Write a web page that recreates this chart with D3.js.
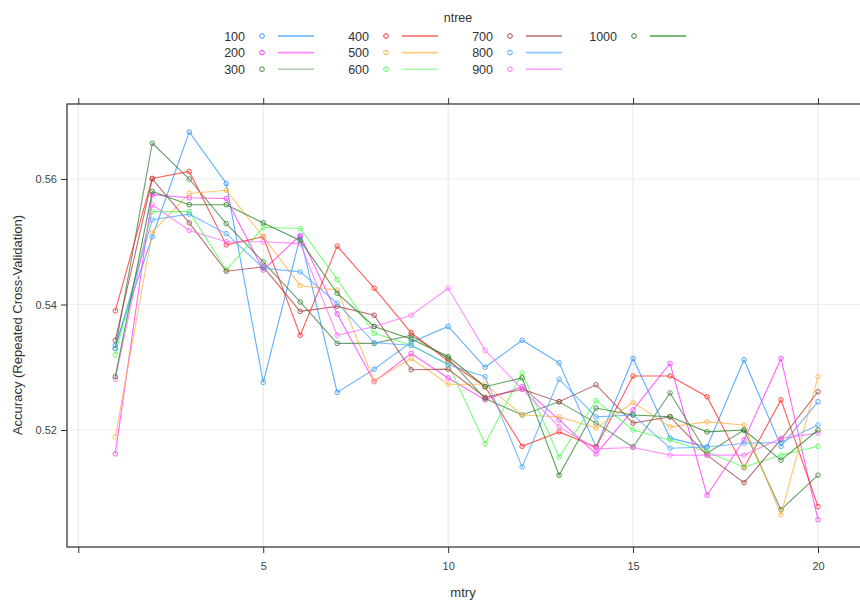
<!DOCTYPE html>
<head>
  <meta charset="utf-8">
  <script src="https://d3js.org/d3.v7.min.js"></script>
  <style>
    body { margin:0; background:#fff; }
    text { font-family: "Liberation Sans", Arial, sans-serif; }
  </style>
</head>
<body>
  <script>
    var mtry = [1,2,3,4,5,6,7,8,9,10,11,12,13,14,15,16,17,18,19,20];
    var ntree = ["100","200","300","400","500","600","700","800","900","1000"];

    var acc100  = [0.5335,0.5508,0.5675,0.5593,0.5276,0.5508,0.5260,0.5297,0.5340,0.5365,0.5300,0.5343,0.5307,0.5173,0.5314,0.5187,0.5173,0.5312,0.5174,0.5245];
    var acc200  = [0.5162,0.5575,0.5570,0.5569,0.5455,0.5510,0.5385,0.5277,0.5322,0.5283,0.5248,0.5269,0.5216,0.5162,0.5232,0.5306,0.5096,0.5184,0.5314,0.5057];
    var acc300  = [0.5330,0.5657,0.5600,0.5529,0.5468,0.5404,0.5338,0.5338,0.5351,0.5314,0.5250,0.5224,0.5245,0.5211,0.5173,0.5259,0.5163,0.5200,0.5073,0.5128];
    var acc400  = [0.5390,0.5601,0.5612,0.5495,0.5508,0.5351,0.5493,0.5426,0.5355,0.5310,0.5269,0.5174,0.5197,0.5173,0.5286,0.5286,0.5253,0.5140,0.5248,0.5078];
    var acc500  = [0.5189,0.5515,0.5577,0.5582,0.5508,0.5430,0.5423,0.5278,0.5314,0.5273,0.5273,0.5224,0.5221,0.5203,0.5244,0.5205,0.5213,0.5208,0.5065,0.5285];
    var acc600  = [0.5320,0.5548,0.5548,0.5455,0.5523,0.5521,0.5440,0.5354,0.5335,0.5305,0.5178,0.5291,0.5157,0.5247,0.5200,0.5184,0.5165,0.5141,0.5160,0.5174];
    var acc700  = [0.5343,0.5600,0.5530,0.5453,0.5460,0.5389,0.5397,0.5383,0.5296,0.5297,0.5252,0.5265,0.5245,0.5272,0.5211,0.5221,0.5160,0.5116,0.5185,0.5261];
    var acc800  = [0.5330,0.5535,0.5544,0.5513,0.5458,0.5452,0.5402,0.5339,0.5335,0.5304,0.5285,0.5141,0.5281,0.5221,0.5224,0.5171,0.5173,0.5179,0.5180,0.5208];
    var acc900  = [0.5281,0.5559,0.5518,0.5500,0.5500,0.5497,0.5351,0.5365,0.5383,0.5426,0.5327,0.5265,0.5205,0.5170,0.5172,0.5160,0.5160,0.5160,0.5187,0.5195];
    var acc1000 = [0.5285,0.5580,0.5559,0.5559,0.5530,0.5502,0.5418,0.5365,0.5345,0.5317,0.5269,0.5283,0.5128,0.5235,0.5224,0.5221,0.5197,0.5200,0.5152,0.5200];

    var xTicks = [0,5,10,15,20];
    var xTickLabels = ["","5","10","15","20"];
    var yTicks = [0.52,0.54,0.56];

    var series = [acc100,acc200,acc300,acc400,acc500,acc600,acc700,acc800,acc900,acc1000];
    var colors = ["#2b93ff","#ff33ff","#3f7f3f","#ff2626","#ffb03d","#4dff4d","#a33f3f","#4aa6ff","#ff6bff","#217f21"];
    var legendCols = ["#62b0ff","#ff88ff","#a9c9a9","#ff5e5e","#ffcf7d","#a9ffa9","#b86a6a","#8ac6ff","#ff9cff","#4aa34a"];

    var W = 860, H = 601;
    var pLeft = 67, pRight = 861, pTop = 104, pBottom = 547;

    var svg = d3.select("body").append("svg")
      .attr("width", W).attr("height", H);

    var x = d3.scaleLinear().domain([0, 20]).range([78.3, 818]);
    var y = d3.scaleLinear().domain([0.52, 0.56]).range([430, 179]);

    // grid
    svg.append("g").selectAll("line").data(xTicks).enter().append("line")
      .attr("x1", d => x(d)).attr("x2", d => x(d))
      .attr("y1", pTop).attr("y2", pBottom)
      .attr("stroke", "#e6e6e6").attr("stroke-width", 1);
    svg.append("g").selectAll("line").data(yTicks).enter().append("line")
      .attr("x1", pLeft).attr("x2", pRight)
      .attr("y1", d => y(d)).attr("y2", d => y(d))
      .attr("stroke", "#eeeeee").attr("stroke-width", 1);

    // series lines and points
    var line = d3.line().x((d, i) => x(mtry[i])).y(d => y(d));
    series.forEach(function (s, k) {
      var g = svg.append("g");
      g.append("path").datum(s)
        .attr("d", line)
        .attr("fill", "none")
        .attr("stroke", colors[k])
        .attr("stroke-opacity", 0.75)
        .attr("stroke-width", 1.1);
      g.selectAll("circle").data(s).enter().append("circle")
        .attr("cx", (d, i) => x(mtry[i]))
        .attr("cy", d => y(d))
        .attr("r", 2.3)
        .attr("fill", "none")
        .attr("stroke", colors[k])
        .attr("stroke-opacity", 0.8)
        .attr("stroke-width", 1);
    });

    // frame
    svg.append("rect")
      .attr("x", pLeft).attr("y", pTop)
      .attr("width", pRight - pLeft).attr("height", pBottom - pTop)
      .attr("fill", "none").attr("stroke", "#3a3a3a").attr("stroke-width", 1.3);

    // axes
    var axB = svg.append("g").attr("transform", "translate(0," + pBottom + ")")
      .call(d3.axisBottom(x).tickValues(xTicks).tickFormat((d, i) => xTickLabels[i]).tickSize(6).tickPadding(9));
    var axT = svg.append("g").attr("transform", "translate(0," + pTop + ")")
      .call(d3.axisTop(x).tickValues(xTicks).tickFormat("").tickSize(6));
    var axL = svg.append("g").attr("transform", "translate(" + pLeft + ",0)")
      .call(d3.axisLeft(y).tickValues(yTicks).tickFormat(d3.format(".2f")).tickSize(6).tickPadding(4));
    [axB, axT, axL].forEach(function (a) {
      a.select(".domain").remove();
      a.selectAll("line").attr("stroke", "#333");
      a.selectAll("text").attr("fill", "#444").style("font-size", "11px")
        .style("font-family", "'Liberation Sans', Arial, sans-serif");
    });

    // axis titles
    svg.append("text").attr("x", 463).attr("y", 597)
      .attr("text-anchor", "middle").attr("fill", "#333")
      .style("font-size", "13px").text("mtry");
    svg.append("text")
      .attr("transform", "translate(22,325) rotate(-90)")
      .attr("text-anchor", "middle").attr("fill", "#333")
      .style("font-size", "13px").text("Accuracy (Repeated Cross-Validation)");

    // legend
    var leg = svg.append("g");
    leg.append("text").attr("x", 458).attr("y", 22)
      .attr("text-anchor", "middle").attr("fill", "#333")
      .style("font-size", "12.5px").text("ntree");
    ntree.forEach(function (n, k) {
      var col = Math.floor(k / 3), row = k % 3;
      var lx = 245 + col * 124, ly = 36 + row * 16.6;
      leg.append("text").attr("x", lx).attr("y", ly + 4.5)
        .attr("text-anchor", "end").attr("fill", "#333")
        .style("font-size", "12.5px").text(n);
      leg.append("circle").attr("cx", lx + 17).attr("cy", ly)
        .attr("r", 2.3).attr("fill", "none")
        .attr("stroke", colors[k]).attr("stroke-width", 1);
      leg.append("line").attr("x1", lx + 33).attr("x2", lx + 69)
        .attr("y1", ly).attr("y2", ly)
        .attr("stroke", legendCols[k]).attr("stroke-width", 1.6);
    });
  </script>
</body>
